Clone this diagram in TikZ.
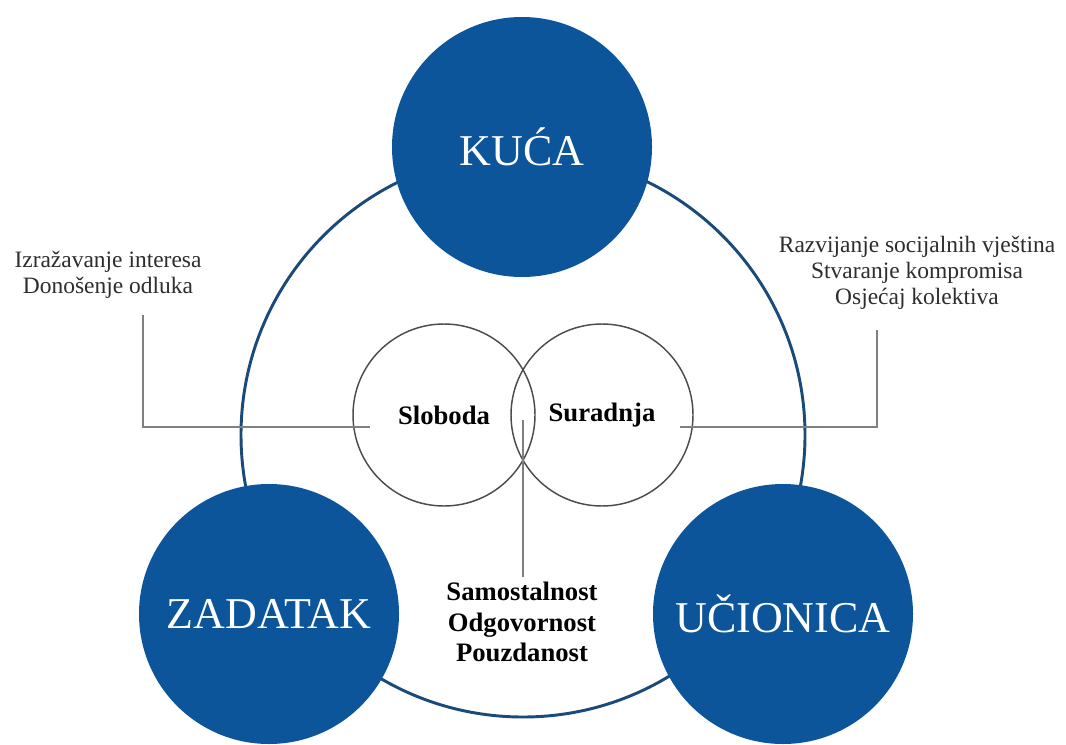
\documentclass[tikz,border=0pt]{standalone}
\usepackage{fontspec}
\setmainfont{Liberation Serif}
\definecolor{ringblue}{RGB}{26,74,122}
\definecolor{dotblue}{RGB}{12,85,155}
\definecolor{textgray}{RGB}{45,45,45}
\tikzset{
    bigdot/.style={circle,fill=dotblue,text=white,minimum size=195pt,inner sep=0pt,
        font=\fontsize{33}{36}\selectfont},
    ring/.style={circle,draw=ringblue,line width=2.2pt,minimum size=423pt,inner sep=0pt},
    venn/.style={circle,draw=black!70,line width=1.1pt,minimum size=136.5pt,inner sep=0pt,
        font=\bfseries\fontsize{20}{23}\selectfont},
    sidetext/.style={align=center,text=textgray,font=\fontsize{17.6}{19.5}\selectfont},
    boldtext/.style={align=center,font=\bfseries\fontsize{20}{23}\selectfont},
    link/.style={draw=black!50,line width=0.8pt}
}
\begin{document}
\begin{tikzpicture}[x=0.75pt,y=-0.75pt]
        \useasboundingbox (0,0) rectangle (1066,745);
        %% Ring
        \node[ring] (ring) at (523,435) {};
        %% Venn circles
        \node[venn] (sloboda) at (444,415) {Sloboda};
        \node[venn] (suradnja) at (602,415) {Suradnja};
        %% Labels
        \node[sidetext] (lefttext) at (108,275) {Izražavanje interesa\\Donošenje odluka};
        \node[sidetext] (righttext) at (917,273) {Razvijanje socijalnih vještina\\Stvaranje kompromisa\\Osjećaj kolektiva};
        \node[boldtext] (bottomtext) at (522,622) {Samostalnost\\Odgovornost\\Pouzdanost};
        %% Leader lines
        \coordinate (ltop) at (143,315);
        \coordinate (lend) at (370,427);
        \coordinate (rtop) at (877,330);
        \coordinate (rend) at (680,427);
        \coordinate (mtop) at (523,420);
        \draw[link] (ltop) |- (lend);
        \draw[link] (rtop) |- (rend);
        \draw[link] (mtop) -- (bottomtext.north -| mtop);
        %% Blue circles
        \node[bigdot] (kuca) at (522,147) {KUĆA};
        \node[bigdot] (zadatak) at (269,614) {ZADATAK};
        \node[bigdot] (ucionica) at (783,614) {UČIONICA};
    \end{tikzpicture}
\end{document}
